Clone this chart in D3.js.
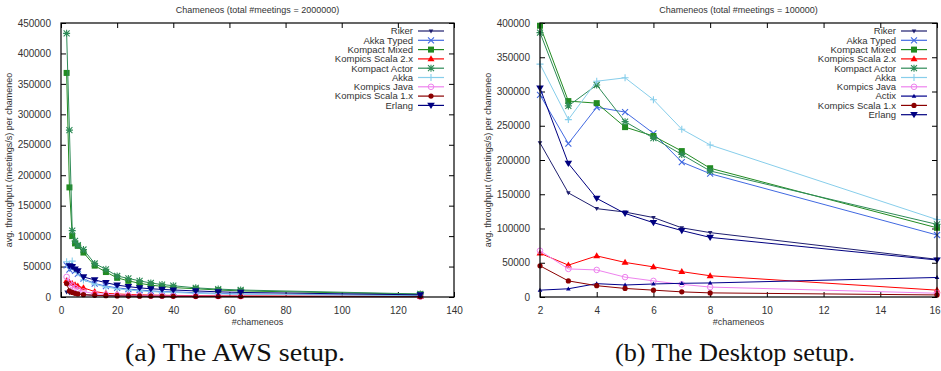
<!DOCTYPE html>
<html><head><meta charset="utf-8">
<script src="https://cdn.jsdelivr.net/npm/d3@7"></script>
<style>body{margin:0;background:#fff}svg{display:block}</style>
</head><body>
<svg id="c" width="941" height="371"></svg>
<script>
// ---------- AWS data (total #meetings = 2000000) ----------
const awsX = [2,3,4,5,6,8,12,16,20,24,28,32,36,40,48,56,64,128];
const awsRiker          = [8000,7000,6200,5500,4800,3800,2800,2200,1900,1700,1500,1400,1300,1200,1100,1000,900,600];
const awsAkkaTyped      = [52000,45000,47000,43000,38000,30000,22000,18000,15000,13000,11500,10000,9000,8500,7000,6000,5000,2500];
const awsKompactMixed   = [368000,180000,100000,88000,84000,73000,51500,41000,31500,26500,22500,19500,17500,15500,13500,11500,10000,4500];
const awsKompicsScala2  = [27000,24000,22000,20000,18000,15000,9000,6000,5000,4200,3600,3200,2900,2600,2300,2000,1800,1000];
const awsKompactActor   = [433000,274000,109000,92000,85000,78000,55000,45500,34500,30500,26500,23000,20500,18500,15000,13000,11500,5000];
const awsAkka           = [58000,50000,59000,45000,40000,28000,21000,16500,13500,11500,10000,9000,8000,7500,6000,5000,4500,2300];
const awsKompicsJava    = [33000,23000,19000,15000,12000,9000,5500,4000,3300,2800,2500,2200,2000,1800,1600,1400,1200,700];
const awsKompicsScala1  = [22000,10000,7500,6000,5000,3800,2700,2200,1800,1600,1400,1300,1200,1100,1000,900,800,500];
const awsErlang         = [null,51000,50000,46000,43000,33000,28000,23500,19500,17000,15000,13500,12500,11500,10000,8500,7500,3500];
const awsXTicks = [0,20,40,60,80,100,120,140];
const awsYTicks = [0,50000,100000,150000,200000,250000,300000,350000,400000,450000];

// ---------- Desktop data (total #meetings = 100000) ----------
const deskX = [2,3,4,5,6,7,8,16];
const deskRiker         = [225000,152000,129000,124000,116000,101000,94000,55000];
const deskAkkaTyped     = [295000,224000,277000,270000,239000,197000,180000,90500];
const deskKompactMixed  = [396000,286000,283000,248000,235000,213000,188000,101000];
const deskKompicsScala2 = [64000,46500,60000,50500,44000,37000,31000,10000];
const deskKompactActor  = [386000,279000,309500,256000,232000,208000,184000,106000];
const deskAkka          = [340000,259000,315000,320000,288000,245000,222000,113000];
const deskKompicsJava   = [67500,41000,39500,29000,23500,18500,14500,5500];
const deskActix         = [10000,12000,19500,17500,19000,20000,20500,28500];
const deskKompicsScala1 = [45500,23500,16500,12500,10000,7500,6000,3000];
const deskErlang        = [305000,195000,144000,122000,108500,97000,87000,54000];
const deskXTicks = [2,4,6,8,10,12,14,16];
const deskYTicks = [0,50000,100000,150000,200000,250000,300000,350000,400000];

const seriesStyle = {
  "Riker":            {color:"#1f1f6f", sym:"smalltridown"},
  "Akka Typed":       {color:"#4169e1", sym:"cross"},
  "Kompact Mixed":    {color:"#228b22", sym:"square"},
  "Kompics Scala 2.x":{color:"#ff0000", sym:"triup"},
  "Kompact Actor":    {color:"#2e8b57", sym:"star"},
  "Akka":             {color:"#87ceeb", sym:"plus"},
  "Kompics Java":     {color:"#ee82ee", sym:"ocircle"},
  "Actix":            {color:"#00008b", sym:"smalltriup"},
  "Kompics Scala 1.x":{color:"#8b0000", sym:"circle"},
  "Erlang":           {color:"#000080", sym:"tridown"}
};

const charts = [
  {title:"Chameneos (total #meetings = 2000000)", x0:61, x1:454, xDom:[0,140], yDom:[0,450000],
   xTicks:awsXTicks, yTicks:awsYTicks, xs:awsX, ylabX:12, caption:"(a) The AWS setup.", capX:235, capW:220,
   series:[["Riker",awsRiker],["Akka Typed",awsAkkaTyped],["Kompact Mixed",awsKompactMixed],
           ["Kompics Scala 2.x",awsKompicsScala2],["Kompact Actor",awsKompactActor],["Akka",awsAkka],
           ["Kompics Java",awsKompicsJava],["Kompics Scala 1.x",awsKompicsScala1],["Erlang",awsErlang]]},
  {title:"Chameneos (total #meetings = 100000)", x0:540, x1:937, xDom:[2,16], yDom:[0,400000],
   xTicks:deskXTicks, yTicks:deskYTicks, xs:deskX, ylabX:491, caption:"(b) The Desktop setup.", capX:735, capW:240,
   series:[["Riker",deskRiker],["Akka Typed",deskAkkaTyped],["Kompact Mixed",deskKompactMixed],
           ["Kompics Scala 2.x",deskKompicsScala2],["Kompact Actor",deskKompactActor],["Akka",deskAkka],
           ["Kompics Java",deskKompicsJava],["Actix",deskActix],["Kompics Scala 1.x",deskKompicsScala1],["Erlang",deskErlang]]}
];

const svg = d3.select("#c");
const yTop = 23, yBot = 297;
const FONT = "'Liberation Sans', Arial, sans-serif";

function drawSymbol(g, sym, x, y, color) {
  const s = 3;
  switch (sym) {
    case "square":
      g.append("rect").attr("x",x-3).attr("y",y-3).attr("width",6).attr("height",6).attr("fill",color); break;
    case "triup":
      g.append("path").attr("d",`M${x},${y-3.6}L${x+3.5},${y+2.4}L${x-3.5},${y+2.4}Z`).attr("fill",color); break;
    case "tridown":
      g.append("path").attr("d",`M${x},${y+3.6}L${x+3.8},${y-2.6}L${x-3.8},${y-2.6}Z`).attr("fill",color); break;
    case "smalltriup":
      g.append("path").attr("d",`M${x},${y-2.4}L${x+2.3},${y+1.6}L${x-2.3},${y+1.6}Z`).attr("fill",color); break;
    case "smalltridown":
      g.append("path").attr("d",`M${x},${y+2.4}L${x+2.3},${y-1.6}L${x-2.3},${y-1.6}Z`).attr("fill",color); break;
    case "circle":
      g.append("circle").attr("cx",x).attr("cy",y).attr("r",2.6).attr("fill",color); break;
    case "ocircle":
      g.append("circle").attr("cx",x).attr("cy",y).attr("r",2.8).attr("fill","none").attr("stroke",color).attr("stroke-width",1); break;
    case "cross":
      g.append("path").attr("d",`M${x-s},${y-s}L${x+s},${y+s}M${x-s},${y+s}L${x+s},${y-s}`).attr("stroke",color).attr("stroke-width",1.1); break;
    case "plus":
      g.append("path").attr("d",`M${x-3.5},${y}L${x+3.5},${y}M${x},${y-3.5}L${x},${y+3.5}`).attr("stroke",color).attr("stroke-width",1.1); break;
    case "star":
      g.append("path").attr("d",`M${x-s},${y-s}L${x+s},${y+s}M${x-s},${y+s}L${x+s},${y-s}M${x-3.5},${y}L${x+3.5},${y}M${x},${y-3.5}L${x},${y+3.5}`).attr("stroke",color).attr("stroke-width",1.1); break;
  }
}

charts.forEach(ch => {
  const x = d3.scaleLinear().domain(ch.xDom).range([ch.x0, ch.x1]);
  const y = d3.scaleLinear().domain(ch.yDom).range([yBot, yTop]);
  const g = svg.append("g");

  // axes (ticks inward, mirrored)
  const tickLen = 5;
  const axL = d3.axisLeft(y).tickValues(ch.yTicks).tickSize(-tickLen).tickPadding(tickLen+5).tickFormat(d3.format("d"));
  const axR = d3.axisRight(y).tickValues(ch.yTicks).tickSize(-tickLen).tickFormat("");
  const axB = d3.axisBottom(x).tickValues(ch.xTicks).tickSize(-tickLen).tickPadding(tickLen+5).tickFormat(d3.format("d"));
  const axT = d3.axisTop(x).tickValues(ch.xTicks).tickSize(-tickLen).tickFormat("");
  const styleAxis = sel => {
    sel.select(".domain").remove();
    sel.selectAll("line").attr("stroke","#000");
    sel.selectAll("text").attr("fill","#333").style("font-family",FONT).style("font-size","10px");
  };
  g.append("g").attr("transform",`translate(${ch.x0},0)`).call(axL).call(styleAxis);
  g.append("g").attr("transform",`translate(${ch.x1},0)`).call(axR).call(styleAxis);
  const bottom = g.append("g").attr("transform",`translate(0,${yBot})`).call(axB).call(styleAxis);
  g.append("g").attr("transform",`translate(0,${yTop})`).call(axT).call(styleAxis);
  // keep the last x tick label inside the window
  bottom.selectAll(".tick text").filter(d => x(d) + 6 > 941).attr("text-anchor","end").attr("dx", 941 - 1 - x(ch.xDom[1]) + "px");

  // series
  const line = d3.line().defined(d => d[1] != null).x(d => x(d[0])).y(d => y(d[1]));
  ch.series.forEach(([name, vals]) => {
    const st = seriesStyle[name];
    const pts = ch.xs.map((xv,i) => [xv, vals[i]]);
    g.append("path").datum(pts).attr("d", line).attr("fill","none").attr("stroke",st.color).attr("stroke-width",1);
    const mg = g.append("g");
    pts.filter(p => p[1] != null).forEach(p => drawSymbol(mg, st.sym, x(p[0]), y(p[1]), st.color));
  });

  // border
  g.append("rect").attr("x",ch.x0).attr("y",yTop).attr("width",ch.x1-ch.x0).attr("height",yBot-yTop)
    .attr("fill","none").attr("stroke","#000").attr("stroke-width",1.2);

  // legend
  const textEnd = ch.x1 - 41, sx0 = ch.x1 - 36, sx1 = ch.x1 - 10;
  ch.series.forEach(([name], i) => {
    const st = seriesStyle[name];
    const ly = 31 + i * 9.3;
    g.append("text").attr("x",textEnd).attr("y",ly).attr("dy","0.35em").attr("text-anchor","end")
      .style("font-family",FONT).style("font-size","9.5px").attr("fill","#333").text(name);
    g.append("line").attr("x1",sx0).attr("x2",sx1).attr("y1",ly).attr("y2",ly).attr("stroke",st.color).attr("stroke-width",1.2);
    drawSymbol(g, st.sym, (sx0+sx1)/2, ly, st.color);
  });

  // titles & labels
  const cx = (ch.x0 + ch.x1) / 2;
  g.append("text").attr("x",cx).attr("y",13).attr("text-anchor","middle")
    .style("font-family",FONT).style("font-size","9px").attr("fill","#333").text(ch.title);
  g.append("text").attr("x",cx).attr("y",325).attr("text-anchor","middle")
    .style("font-family",FONT).style("font-size","9px").attr("fill","#333").text("#chameneos");
  g.append("text").attr("transform",`translate(${ch.ylabX},${(yTop+yBot)/2}) rotate(-90)`).attr("text-anchor","middle")
    .style("font-family",FONT).style("font-size","9px").attr("fill","#333").text("avg. throughput (meetings/s) per chameneo");
  g.append("text").attr("x",ch.capX - ch.capW/2).attr("y",361)
    .attr("textLength", ch.capW).attr("lengthAdjust","spacingAndGlyphs")
    .style("font-family","'Liberation Serif', 'DejaVu Serif', serif").style("font-size","25px").attr("fill","#111").text(ch.caption);
});
</script>
</body></html>
